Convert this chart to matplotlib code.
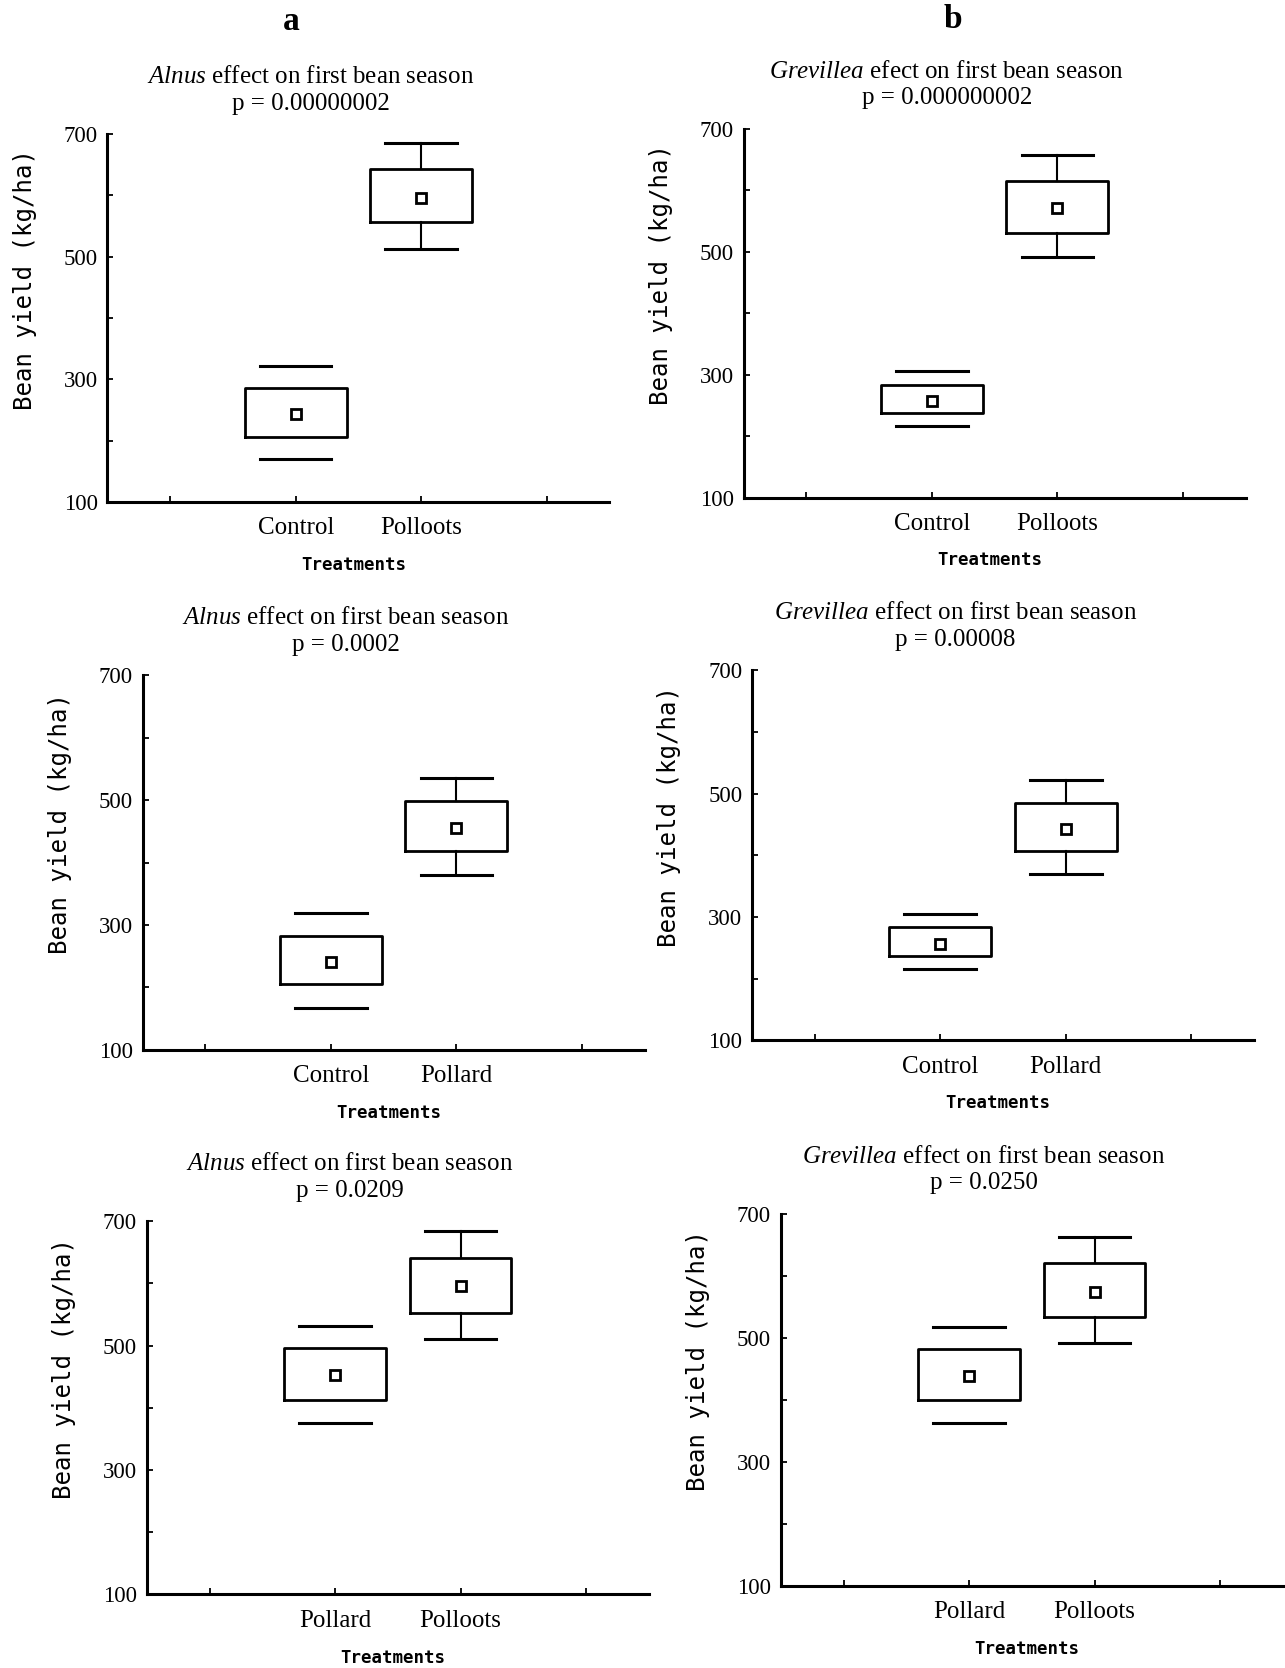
import matplotlib
matplotlib.use("Agg")
import matplotlib.pyplot as plt
from matplotlib.ticker import MultipleLocator

plt.rcParams['font.family'] = ['Liberation Serif', 'DejaVu Serif']
plt.rcParams['mathtext.fontset'] = 'custom'
plt.rcParams['mathtext.it'] = 'Liberation Serif:italic'
plt.rcParams['mathtext.rm'] = 'Liberation Serif'

# values (kg/ha)
# column a = Alnus, column b = Grevillea
a1_groups = ["Control", "Polloots"]
a1_low = [170, 513]
a1_q1 = [206, 557]
a1_mean = [243, 596]
a1_q3 = [286, 643]
a1_high = [322, 686]

b1_groups = ["Control", "Polloots"]
b1_low = [216, 491]
b1_q1 = [238, 531]
b1_mean = [258, 571]
b1_q3 = [283, 615]
b1_high = [306, 657]

a2_groups = ["Control", "Pollard"]
a2_low = [167, 380]
a2_q1 = [205, 418]
a2_mean = [240, 455]
a2_q3 = [283, 498]
a2_high = [319, 535]

b2_groups = ["Control", "Pollard"]
b2_low = [215, 370]
b2_q1 = [236, 407]
b2_mean = [256, 443]
b2_q3 = [283, 484]
b2_high = [304, 522]

a3_groups = ["Pollard", "Polloots"]
a3_low = [376, 510]
a3_q1 = [413, 553]
a3_mean = [452, 595]
a3_q3 = [496, 640]
a3_high = [532, 684]

b3_groups = ["Pollard", "Polloots"]
b3_low = [363, 491]
b3_q1 = [400, 533]
b3_mean = [439, 574]
b3_q3 = [482, 621]
b3_high = [517, 662]

p_values = ["0.00000002", "0.000000002", "0.0002", "0.00008", "0.0209", "0.0250"]
titles = [r"$\mathit{Alnus}$ effect on first bean season",
          r"$\mathit{Grevillea}$ efect on first bean season",
          r"$\mathit{Alnus}$ effect on first bean season",
          r"$\mathit{Grevillea}$ effect on first bean season",
          r"$\mathit{Alnus}$ effect on first bean season",
          r"$\mathit{Grevillea}$ effect on first bean season"]

panels = [
    (a1_groups, a1_low, a1_q1, a1_mean, a1_q3, a1_high),
    (b1_groups, b1_low, b1_q1, b1_mean, b1_q3, b1_high),
    (a2_groups, a2_low, a2_q1, a2_mean, a2_q3, a2_high),
    (b2_groups, b2_low, b2_q1, b2_mean, b2_q3, b2_high),
    (a3_groups, a3_low, a3_q1, a3_mean, a3_q3, a3_high),
    (b3_groups, b3_low, b3_q1, b3_mean, b3_q3, b3_high),
]

# axes rectangles (figure fractions), the scan is not quite aligned
rects = [
    [0.0836, 0.699, 0.3907, 0.2206],
    [0.5786, 0.7016, 0.3907, 0.2213],
    [0.1109, 0.3706, 0.3907, 0.2245],
    [0.5852, 0.3763, 0.3907, 0.2219],
    [0.1142, 0.0441, 0.3907, 0.2238],
    [0.6076, 0.0492, 0.3907, 0.2232],
]

fig = plt.figure(figsize=(12.85, 16.68), dpi=100)
mono = 'DejaVu Sans Mono'

for i, (groups, low, q1, mean, q3, high) in enumerate(panels):
    ax = fig.add_axes(rects[i])
    stats = []
    for j in range(2):
        stats.append({'med': mean[j], 'q1': q1[j], 'q3': q3[j],
                      'whislo': low[j], 'whishi': high[j],
                      'mean': mean[j], 'fliers': []})
    bp = ax.bxp(stats, positions=[2, 3], widths=0.81, capwidths=0.57,
                showmeans=True, showfliers=False, patch_artist=False,
                boxprops=dict(color='black', linewidth=2.0),
                whiskerprops=dict(color='black', linewidth=1.5),
                capprops=dict(color='black', linewidth=2.2),
                medianprops=dict(linewidth=0),
                meanprops=dict(marker='s', markersize=7, markerfacecolor='white',
                               markeredgecolor='black', markeredgewidth=2.0))
    # first group drawn without whisker stems in the original
    bp['whiskers'][0].set_visible(False)
    bp['whiskers'][1].set_visible(False)

    ax.set_xlim(0.5, 4.5)
    ax.set_ylim(100, 700)
    ax.set_xticks([1, 2, 3, 4], ['', groups[0], groups[1], ''])
    ax.set_yticks([100, 300, 500, 700])
    ax.yaxis.set_minor_locator(MultipleLocator(100))
    ax.tick_params(axis='both', which='both', direction='in', length=4, width=1.3,
                   labelsize=16.5)
    ax.tick_params(axis='x', labelsize=18, pad=11)
    ax.tick_params(axis='y', pad=7)
    for s in ['top', 'right']:
        ax.spines[s].set_visible(False)
    for s in ['left', 'bottom']:
        ax.spines[s].set_linewidth(2.2)

    ax.set_ylabel("Bean yield (kg/ha)", family=mono, fontsize=17.3)
    ax.yaxis.set_label_coords(-0.141, 0.605)
    ax.set_xlabel("Treatments", family=mono, fontsize=12.5, fontweight='bold',
                  va='center')
    ax.xaxis.set_label_coords(0.49, -0.17)

    ax.annotate(titles[i], xy=(0.405, 1), xycoords='axes fraction',
                xytext=(0, 41), textcoords='offset points',
                ha='center', va='center', fontsize=18)
    ax.annotate("p = " + p_values[i], xy=(0.405, 1), xycoords='axes fraction',
                xytext=(0, 22), textcoords='offset points',
                ha='center', va='center', fontsize=18)

fig.text(291.5 / 1285, 1 - 21 / 1668, "a", ha='center', va='center',
         fontsize=24, fontweight='bold')
fig.text(953 / 1285, 1 - 19 / 1668, "b", ha='center', va='center',
         fontsize=24, fontweight='bold')

fig.savefig("out.png", dpi=100)
